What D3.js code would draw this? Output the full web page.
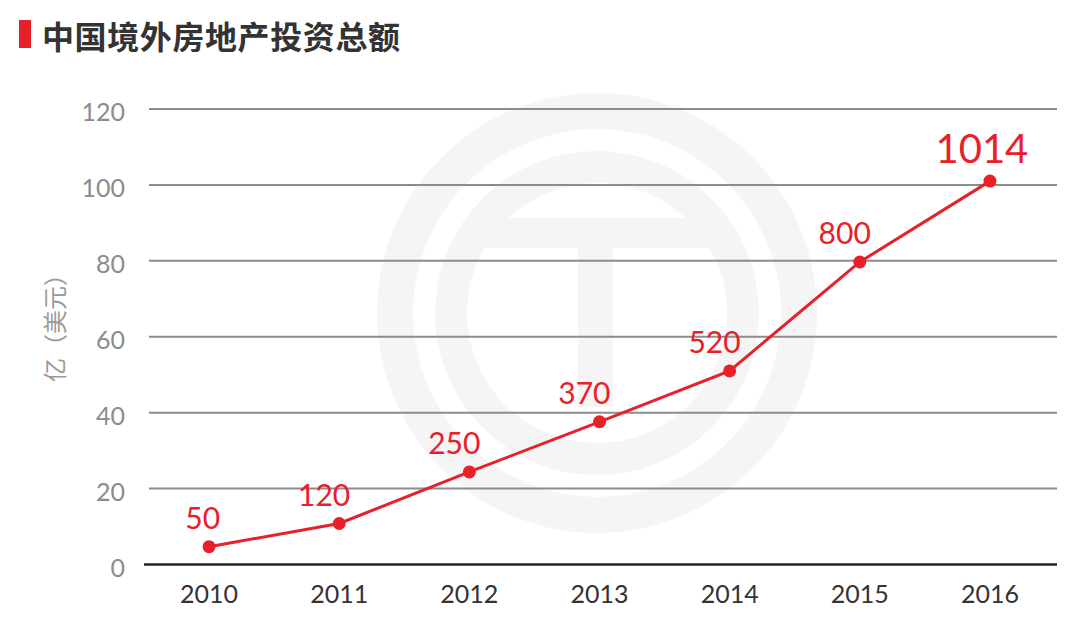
<!DOCTYPE html>
<html><head><meta charset="utf-8">
<script src="https://cdn.jsdelivr.net/npm/d3@7/dist/d3.min.js"></script>
<style>html,body{margin:0;padding:0;background:#fff;}svg{display:block;}</style>
</head><body>
<script>
const title = "中国境外房地产投资总额";
const yTitle = "亿（美元）";
const years = ["2010","2011","2012","2013","2014","2015","2016"];
const values = [4.7, 10.8, 24.4, 37.6, 51, 79.7, 101];
const valueLabels = ["50","120","250","370","520","800","1014"];
const yTicks = [0,20,40,60,80,100,120];

const W = 1090, H = 634;
const svg = d3.select("body").append("svg").attr("width", W).attr("height", H);
svg.append("rect").attr("width", W).attr("height", H).attr("fill", "#fff");

const x = d3.scaleBand().domain(years).range([144, 1055]);
const y = d3.scaleLinear().domain([0, 120]).range([564.5, 109]);
const cx = d => x(d) + x.bandwidth() / 2;

// watermark emblem
const wm = svg.append("g");
const wc = [597, 313], wcol = "#f5f5f5";
wm.append("circle").attr("cx", wc[0]).attr("cy", wc[1]).attr("r", 202)
  .attr("fill", "none").attr("stroke", wcol).attr("stroke-width", 36);
wm.append("circle").attr("cx", wc[0]).attr("cy", wc[1]).attr("r", 146)
  .attr("fill", "none").attr("stroke", wcol).attr("stroke-width", 32);
wm.append("rect").attr("x", 483).attr("y", 218).attr("width", 234).attr("height", 30).attr("fill", wcol);
wm.append("rect").attr("x", 578).attr("y", 248).attr("width", 35).attr("height", 159).attr("fill", wcol);

// title
svg.append("rect").attr("x", 19).attr("y", 20).attr("width", 12).attr("height", 28).attr("fill", "#e8202a");
svg.append("text").attr("x", 42).attr("y", 35).attr("dominant-baseline", "central")
  .attr("font-family", "'Noto Sans CJK SC', sans-serif").attr("font-weight", 700)
  .attr("font-size", 32).attr("letter-spacing", 0.6).attr("fill", "#333").text(title);

// gridlines
const grid = svg.append("g");
grid.selectAll("line").data(yTicks.filter(t => t > 0)).join("line")
  .attr("x1", 149).attr("x2", 1057).attr("y1", d => y(d)).attr("y2", d => y(d))
  .attr("stroke", "#8c8c8c").attr("stroke-width", 2);

// y axis labels
const yAxis = d3.axisLeft(y).tickValues(yTicks).tickSize(0).tickPadding(0);
const yg = svg.append("g").attr("transform", "translate(125,0)").call(yAxis);
yg.select(".domain").remove();
yg.selectAll("text").attr("font-family", "Lato, sans-serif").attr("font-size", 25)
  .attr("fill", "#8c8c8c").attr("dy", "0.47em");

// baseline + x labels
const xAxis = d3.axisBottom(x).tickSize(0).tickPadding(0);
const xg = svg.append("g").attr("transform", `translate(0,${y(0)})`).call(xAxis);
xg.select(".domain").remove();
xg.selectAll("text").attr("font-family", "Lato, sans-serif").attr("font-size", 25)
  .attr("fill", "#333").attr("dy", null).attr("y", 38);
svg.append("line").attr("x1", 144).attr("x2", 1057).attr("y1", y(0)).attr("y2", y(0))
  .attr("stroke", "#222").attr("stroke-width", 2.5);

svg.append("text").attr("transform", "translate(53,322) rotate(-90)")
  .attr("text-anchor", "middle").attr("dominant-baseline", "central")
  .attr("font-family", "'Noto Sans CJK SC', sans-serif").attr("font-size", 24)
  .attr("fill", "#9a9a9a").text(yTitle);

// line
const red = "#e8202a";
const pts = years.map((yr, i) => ({yr, v: values[i], lab: valueLabels[i], i}));
svg.append("path").datum(pts)
  .attr("d", d3.line().x(d => cx(d.yr)).y(d => y(d.v)))
  .attr("fill", "none").attr("stroke", red).attr("stroke-width", 3);
svg.append("g").selectAll("circle").data(pts).join("circle")
  .attr("cx", d => cx(d.yr)).attr("cy", d => y(d.v)).attr("r", 6.5).attr("fill", red);

const last = pts.length - 1;
svg.append("g").selectAll("text").data(pts).join("text")
  .attr("x", d => d.i === last ? cx(d.yr) - 8 : cx(d.yr) + 11)
  .attr("y", d => y(d.v) - 18)
  .attr("text-anchor", d => d.i === last ? "middle" : "end")
  .attr("font-family", "Lato, sans-serif")
  .attr("font-size", d => d.i === last ? 40 : 30)
  .attr("fill", red).text(d => d.lab);
</script>
</body></html>
